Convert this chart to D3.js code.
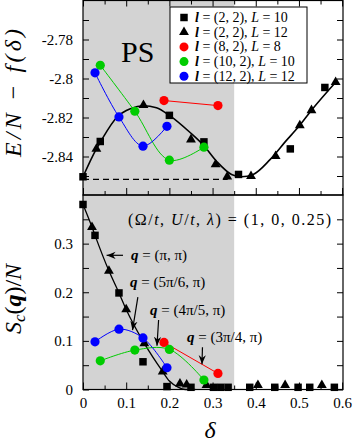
<!DOCTYPE html>
<html>
<head>
<meta charset="utf-8">
<title>PS energy and structure factor</title>
<script src="https://d3js.org/d3.v7.min.js"></script>
<style>
    body { margin: 0; background: #fff; }
    svg, svg text { font-family: 'Liberation Serif', 'Times New Roman', Times, serif; }
</style>
</head>
<body>
<script type="text/javascript">
    const w = 354;
    const h = 442;

    // ---- top panel: E/N - f(delta) ----
    const sqDeltaE = [0, 0.04, 0.2, 0.28, 0.36, 0.48, 0.56];
    const sqE = [-2.8504, -2.8323, -2.8189, -2.8325, -2.8492, -2.8361, -2.8046];
    const triDeltaE = [0.031, 0.14, 0.25, 0.307, 0.334, 0.389, 0.446, 0.502, 0.529, 0.585];
    const triE = [-2.8361, -2.8137, -2.8313, -2.8441, -2.8504, -2.8501, -2.8398, -2.8241, -2.8163, -2.8019];
    const redDeltaE = [0.1875, 0.3125];
    const redE = [-2.8113, -2.8139];
    const greenDeltaE = [0.04, 0.12, 0.2, 0.28];
    const greenE = [-2.7932, -2.8168, -2.8419, -2.8352];
    const blueDeltaE = [0.0278, 0.0833, 0.1389, 0.1944];
    const blueE = [-2.7971, -2.8197, -2.8347, -2.8245];
    // black guide curve through the (2,2) data
    const fitDeltaE = [0, 0.031, 0.041, 0.08, 0.11, 0.14, 0.17, 0.2, 0.248, 0.278, 0.309, 0.344, 0.367, 0.394, 0.433, 0.47, 0.5, 0.53, 0.585];
    const fitE = [-2.8504, -2.8361, -2.8323, -2.8195, -2.8155, -2.8140, -2.8150, -2.8189, -2.8277, -2.834, -2.8424, -2.8492, -2.8504, -2.8492, -2.8416, -2.832, -2.8245, -2.8160, -2.8019];
    // Maxwell line
    const mixDelta = [0, 0.335];
    const mixE = [-2.8517, -2.8517];

    // ---- bottom panel: S_c(q)/N ----
    const sqDeltaS = [0, 0.0278, 0.0833, 0.1389, 0.1944, 0.25, 0.302, 0.319, 0.336, 0.386, 0.444, 0.498, 0.525, 0.582];
    const sqS = [0.3805, 0.317, 0.1986, 0.057, 0.006, 0.0045, 0.0045, 0.0045, 0.0045, 0.0045, 0.0045, 0.0045, 0.0045, 0.0045];
    const triDeltaS = [0.0208, 0.06, 0.1, 0.142, 0.1845, 0.2245, 0.24, 0.286, 0.405, 0.468, 0.553];
    const triS = [0.334, 0.244, 0.1645, 0.0947, 0.0366, 0.012, 0.01, 0.009, 0.009, 0.009, 0.009];
    const redDeltaS = [0.1875, 0.3125];
    const redS = [0.0968, 0.033];
    const greenDeltaS = [0.04, 0.12, 0.2, 0.28];
    const greenS = [0.059, 0.081, 0.0825, 0.0195];
    const blueDeltaS = [0.0278, 0.0833, 0.1389, 0.1944];
    const blueS = [0.098, 0.124, 0.106, 0.0447];
    const fitDeltaS = [0, 0.0208, 0.0278, 0.06, 0.0833, 0.1, 0.142, 0.1845, 0.2, 0.22, 0.237, 0.26];
    const fitS = [0.3805, 0.334, 0.317, 0.244, 0.1986, 0.1645, 0.0947, 0.0366, 0.0174, 0.005, 0, 0];

    const psEdge = 0.35;

    const legendLabels = [
        ['(2, 2), ', '10'],
        ['(2, 2), ', '12'],
        ['(8, 2), ', '8'],
        ['(10, 2), ', '10'],
        ['(12, 2), ', '12']
    ];
    const legendShapes = ['square', 'triangle', 'circle', 'circle', 'circle'];
    const legendColors = ['#000', '#000', '#ff0000', '#00cc00', '#0000ff'];

    const xTicks = [0, 0.1, 0.2, 0.3, 0.4, 0.5, 0.6];
    const xMinor = [0.05, 0.15, 0.25, 0.35, 0.45, 0.55];
    const eTicks = [-2.84, -2.82, -2.8, -2.78];
    const eMinor = [-2.85, -2.83, -2.81, -2.79, -2.77];
    const sTicks = [0, 0.1, 0.2, 0.3];
    const sMinor = [0.05, 0.15, 0.25, 0.35];

    const serif = "'Liberation Serif', 'Times New Roman', Times, serif";

    const svg = d3.select('body').append('svg').attr('width', w).attr('height', h)
        .style('font-family', serif);

    const xScale = d3.scaleLinear().domain([0, 0.602]).range([83, 343]);
    const yE = d3.scaleLinear().domain([-2.86, -2.76]).range([195.5, 0.5]);
    const yS = d3.scaleLinear().domain([0, 0.4]).range([389.5, 195]);

    const gray = '#d3d3d3';

    // shaded phase separation region
    svg.append('rect')
        .attr('x', xScale(0)).attr('y', yE(-2.76))
        .attr('width', xScale(psEdge) - xScale(0))
        .attr('height', yS(0) - yE(-2.76))
        .attr('fill', gray);

    // axes / ticks
    function tickAxis(axisFn, scale, vals, size, tx, ty, labels) {
        const ax = axisFn(scale).tickValues(vals).tickSize(-size).tickPadding(labels ? 10 : 0)
            .tickFormat(labels ? (d => String(d)) : '');
        const g = svg.append('g').attr('transform', `translate(${tx},${ty})`).call(ax);
        g.attr('font-family', null);
        g.select('.domain').remove();
        g.selectAll('line').attr('stroke', '#000').attr('stroke-width', 1);
        g.selectAll('text').attr('fill', '#000')
            .style('font-family', serif).style('font-size', '15px');
        return g;
    }

    // top panel
    tickAxis(d3.axisLeft, yE, eTicks, 6, 83, 0, true);
    tickAxis(d3.axisLeft, yE, eMinor, 6, 83, 0, false);
    tickAxis(d3.axisRight, yE, eTicks.concat(eMinor), 6, 343, 0, false);
    tickAxis(d3.axisTop, xScale, xTicks, 6, 0, 0.5, false);
    tickAxis(d3.axisTop, xScale, xMinor, 4, 0, 0.5, false);
    tickAxis(d3.axisBottom, xScale, xTicks, 7, 0, 195, false);
    tickAxis(d3.axisBottom, xScale, xMinor, 4, 0, 195, false);

    // bottom panel
    tickAxis(d3.axisLeft, yS, sTicks, 6, 83, 0, true);
    tickAxis(d3.axisLeft, yS, sMinor, 6, 83, 0, false);
    tickAxis(d3.axisRight, yS, sTicks.concat(sMinor), 6, 343, 0, false);
    tickAxis(d3.axisBottom, xScale, xTicks, 7, 0, 389.5, true)
        .selectAll('text').attr('dy', '0.71em').attr('y', 8);
    tickAxis(d3.axisBottom, xScale, xMinor, 4, 0, 389.5, false);

    // frames
    svg.append('rect')
        .attr('x', 83).attr('y', 0.5).attr('width', 260).attr('height', 194.5)
        .attr('fill', 'none').attr('stroke', '#000').attr('stroke-width', 1.2);
    svg.append('rect')
        .attr('x', 83).attr('y', 195).attr('width', 260).attr('height', 194.5)
        .attr('fill', 'none').attr('stroke', '#000').attr('stroke-width', 1.2);

    const zip = (a, b) => a.map((d, i) => [d, b[i]]);

    function drawLine(xs, ys, yScale, color, width, curve, dash) {
        const line = d3.line()
            .x(d => xScale(d[0]))
            .y(d => yScale(d[1]))
            .curve(curve);
        const p = svg.append('path')
            .datum(zip(xs, ys))
            .attr('d', line)
            .attr('fill', 'none')
            .attr('stroke', color)
            .attr('stroke-width', width);
        if (dash) p.attr('stroke-dasharray', dash);
    }

    function drawMarks(xs, ys, yScale, shape, color) {
        const pts = zip(xs, ys);
        if (shape === 'circle') {
            svg.append('g').selectAll('circle')
                .data(pts).enter().append('circle')
                .attr('cx', d => xScale(d[0]))
                .attr('cy', d => yScale(d[1]))
                .attr('r', 4.6)
                .attr('fill', color);
        } else {
            const sym = d3.symbol()
                .type(shape === 'square' ? d3.symbolSquare : d3.symbolTriangle)
                .size(shape === 'square' ? 56 : 42);
            svg.append('g').selectAll('path')
                .data(pts).enter().append('path')
                .attr('transform', d => `translate(${xScale(d[0])},${yScale(d[1])})`)
                .attr('d', sym)
                .attr('fill', color);
        }
    }

    // top panel data
    drawLine(mixDelta, mixE, yE, '#000', 1.3, d3.curveLinear, '6,4');
    drawLine(fitDeltaE, fitE, yE, '#000', 1.6, d3.curveMonotoneX);
    drawLine(redDeltaE, redE, yE, '#ff0000', 1, d3.curveLinear);
    drawLine(greenDeltaE, greenE, yE, '#00cc00', 1, d3.curveCatmullRom);
    drawLine(blueDeltaE, blueE, yE, '#0000ff', 1, d3.curveCatmullRom);
    drawMarks(sqDeltaE, sqE, yE, 'square', '#000');
    drawMarks(triDeltaE, triE, yE, 'triangle', '#000');
    drawMarks(redDeltaE, redE, yE, 'circle', '#ff0000');
    drawMarks(greenDeltaE, greenE, yE, 'circle', '#00cc00');
    drawMarks(blueDeltaE, blueE, yE, 'circle', '#0000ff');

    // bottom panel data
    drawLine(fitDeltaS, fitS, yS, '#000', 1.3, d3.curveMonotoneX);
    drawLine(redDeltaS, redS, yS, '#ff0000', 1, d3.curveLinear);
    drawLine(greenDeltaS, greenS, yS, '#00cc00', 1, d3.curveCatmullRom);
    drawLine(blueDeltaS, blueS, yS, '#0000ff', 1, d3.curveCatmullRom);
    drawMarks(sqDeltaS, sqS, yS, 'square', '#000');
    drawMarks(triDeltaS, triS, yS, 'triangle', '#000');
    drawMarks(redDeltaS, redS, yS, 'circle', '#ff0000');
    drawMarks(greenDeltaS, greenS, yS, 'circle', '#00cc00');
    drawMarks(blueDeltaS, blueS, yS, 'circle', '#0000ff');

    // PS label
    svg.append('text')
        .attr('x', 121).attr('y', 62)
        .attr('font-size', '30px')
        .text('PS');

    // legend
    const lg = svg.append('g');
    lg.append('rect')
        .attr('x', 170).attr('y', 7).attr('width', 137).attr('height', 76)
        .attr('fill', '#fff').attr('stroke', '#000').attr('stroke-width', 1);
    legendLabels.forEach((d, i) => {
        const cy = 17.5 + i * 14.7;
        if (legendShapes[i] === 'circle') {
            lg.append('circle').attr('cx', 184).attr('cy', cy).attr('r', 4.5).attr('fill', legendColors[i]);
        } else {
            lg.append('path')
                .attr('transform', `translate(184,${cy})`)
                .attr('d', d3.symbol().type(legendShapes[i] === 'square' ? d3.symbolSquare : d3.symbolTriangle)
                    .size(legendShapes[i] === 'square' ? 56 : 42))
                .attr('fill', legendColors[i]);
        }
        const t = lg.append('text').attr('x', 195).attr('y', cy + 4.5).attr('font-size', '14px');
        t.append('tspan').attr('font-weight', 'bold').attr('font-style', 'italic').text('l');
        t.append('tspan').text(' = ' + d[0]);
        t.append('tspan').attr('font-style', 'italic').text('L');
        t.append('tspan').text(' = ' + d[1]);
    });

    // parameters
    const par = svg.append('text')
        .attr('x', 128).attr('y', 225).attr('font-size', '16px')
        .attr('textLength', 203).attr('lengthAdjust', 'spacing');
    par.append('tspan').text('(Ω/');
    par.append('tspan').attr('font-style', 'italic').text('t');
    par.append('tspan').text(', ');
    par.append('tspan').attr('font-style', 'italic').text('U');
    par.append('tspan').text('/');
    par.append('tspan').attr('font-style', 'italic').text('t');
    par.append('tspan').text(', ');
    par.append('tspan').attr('font-style', 'italic').text('λ');
    par.append('tspan').text(') = (1, 0, 0.25)');

    // arrow marker
    svg.append('defs').append('marker')
        .attr('id', 'arr')
        .attr('viewBox', '0 0 10 10')
        .attr('refX', 10).attr('refY', 5)
        .attr('markerWidth', 9).attr('markerHeight', 9)
        .attr('markerUnits', 'userSpaceOnUse')
        .attr('orient', 'auto')
        .append('path').attr('d', 'M0,1 L10,5 L0,9 L3,5 Z').attr('fill', '#000');

    const qLabels = ['(π, π)', '(5π/6, π)', '(4π/5, π)', '(3π/4, π)'];
    // text anchor and arrow ends, in data units
    const qText = [[0.111, 0.266], [0.109, 0.21], [0.155, 0.154], [0.241, 0.097]];
    const qArrow = [[[0.0926, 0.276], [0.0546, 0.276]],
                    [[0.127, 0.19], [0.1146, 0.122]],
                    [[0.175, 0.143], [0.1713, 0.09]],
                    [[0.2766, 0.087], [0.2755, 0.052]]];

    qLabels.forEach((lab, i) => {
        const t = svg.append('text')
            .attr('x', xScale(qText[i][0])).attr('y', yS(qText[i][1]))
            .attr('font-size', '15px');
        t.append('tspan').attr('font-weight', 'bold').attr('font-style', 'italic').text('q');
        t.append('tspan').text(' = ' + lab);
        const a = qArrow[i];
        svg.append('line')
            .attr('x1', xScale(a[0][0])).attr('y1', yS(a[0][1]))
            .attr('x2', xScale(a[1][0])).attr('y2', yS(a[1][1]))
            .attr('stroke', '#000').attr('stroke-width', 1.2)
            .attr('marker-end', 'url(#arr)');
    });

    // axis titles
    svg.append('text')
        .attr('transform', 'translate(21,93) rotate(-90)')
        .attr('text-anchor', 'middle')
        .attr('font-size', '24px')
        .attr('font-style', 'italic')
        .attr('textLength', 128).attr('lengthAdjust', 'spacing')
        .text('E/N − f(δ)');

    const sl = svg.append('text')
        .attr('transform', 'translate(21,299) rotate(-90)')
        .attr('text-anchor', 'middle')
        .attr('font-size', '24px');
    sl.append('tspan').attr('font-style', 'italic').text('S');
    sl.append('tspan').attr('font-style', 'italic').attr('font-size', '17px').attr('dy', 4).text('c');
    sl.append('tspan').attr('dy', -4).text('(');
    sl.append('tspan').attr('font-weight', 'bold').attr('font-style', 'italic').text('q');
    sl.append('tspan').text(')/');
    sl.append('tspan').attr('font-style', 'italic').text('N');

    svg.append('text')
        .attr('x', 210).attr('y', 438)
        .attr('text-anchor', 'middle')
        .attr('font-size', '24px')
        .attr('font-style', 'italic')
        .text('δ');
</script>
</body>
</html>
